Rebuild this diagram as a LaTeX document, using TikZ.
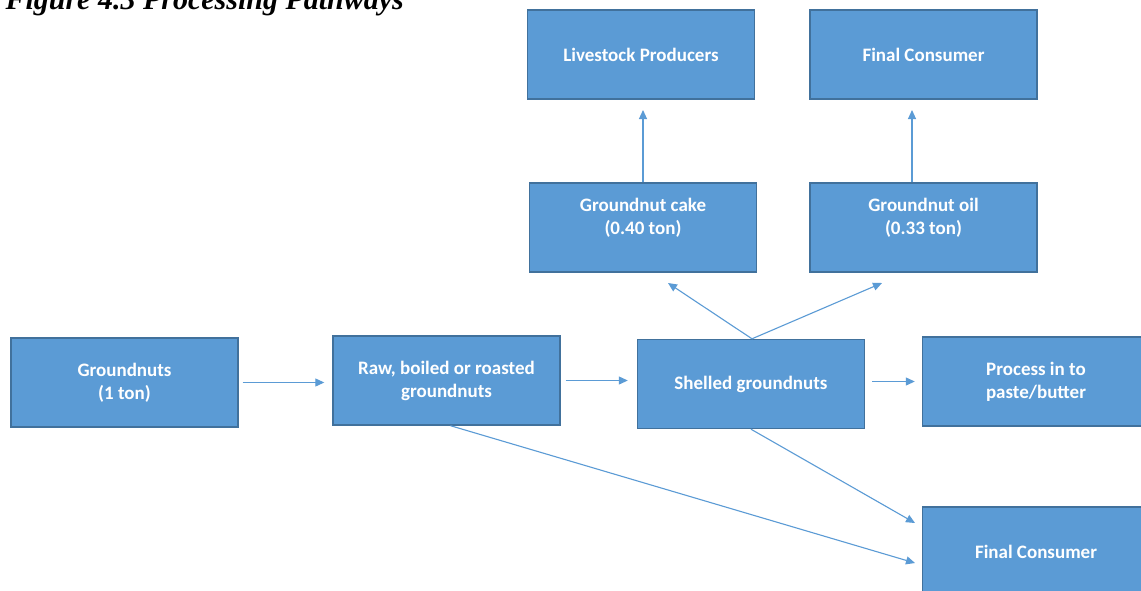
\documentclass[tikz,border=0pt]{standalone}
\usepackage{fontspec}
\setmainfont{Carlito}
\newfontfamily\titlefont{Liberation Serif}
\usetikzlibrary{arrows.meta}
\definecolor{boxfill}{HTML}{5B9BD5}
\definecolor{boxline}{HTML}{41719C}
\definecolor{arrowcol}{HTML}{5B9BD5}
\tikzset{
  stepbox/.style={rectangle, fill=boxfill, draw=boxline, line width=1.4pt,
    minimum width=227pt, minimum height=89pt, inner sep=0pt,
    text=white, align=center, font=\fontsize{19}{23}\selectfont\bfseries},
  arr/.style={draw=arrowcol, line width=1.1pt,
    -{Triangle[length=9pt,width=8pt]}}
}
\begin{document}
\begin{tikzpicture}[x=1pt,y=-1pt]
\clip (0,0) rectangle (1141,590);
\fill[white] (0,0) rectangle (1141,590);
\node[anchor=base west, font=\titlefont\bfseries\itshape\fontsize{30}{34}\selectfont] (title) at (2,9) {Figure 4.3 Processing Pathways};

\node[stepbox] (g) at (124.5,382.5) {Groundnuts\\(1 ton)};
\node[stepbox] (raw) at (446.5,380.5) {Raw, boiled or roasted\\groundnuts};
\node[stepbox] (sh) at (751,384) {Shelled groundnuts};
\node[stepbox] (proc) at (1036,381.5) {Process in to\\paste/butter};
\node[stepbox] (fcb) at (1036,551.5) {Final Consumer};
\node[stepbox] (cake) at (643,227.5) {Groundnut cake\\(0.40 ton)\\\mbox{}};
\node[stepbox] (oil) at (923.5,227.5) {Groundnut oil\\(0.33 ton)\\\mbox{}};
\node[stepbox] (live) at (641,54.5) {Livestock Producers};
\node[stepbox] (fct) at (923.5,54.5) {Final Consumer};

\coordinate (tcake) at (668,283);
\coordinate (toil) at (882,283);
\coordinate (tlive) at (643,110);
\coordinate (tfct) at (912,110);
\coordinate (tfcb1) at (915,523);
\coordinate (tfcb2) at (915,563);

\draw[arr, shorten <=4pt, shorten >=8pt] (g.east) -- (raw.west |- g.east);
\draw[arr, shorten <=5pt, shorten >=9pt] (raw.east) -- (sh.west |- raw.east);
\draw[arr, shorten <=7pt, shorten >=7pt] (sh.east |- proc.west) -- (proc.west);
\draw[arr] ([xshift=1pt]sh.north) -- (tcake);
\draw[arr] ([xshift=1pt]sh.north) -- (toil);
\draw[arr] (cake.north) -- (tlive);
\draw[arr] (tfct |- oil.north) -- (tfct);
\draw[arr] (sh.south) -- (tfcb1);
\draw[arr] ([xshift=4pt]raw.south) -- (tfcb2);
\end{tikzpicture}
\end{document}
